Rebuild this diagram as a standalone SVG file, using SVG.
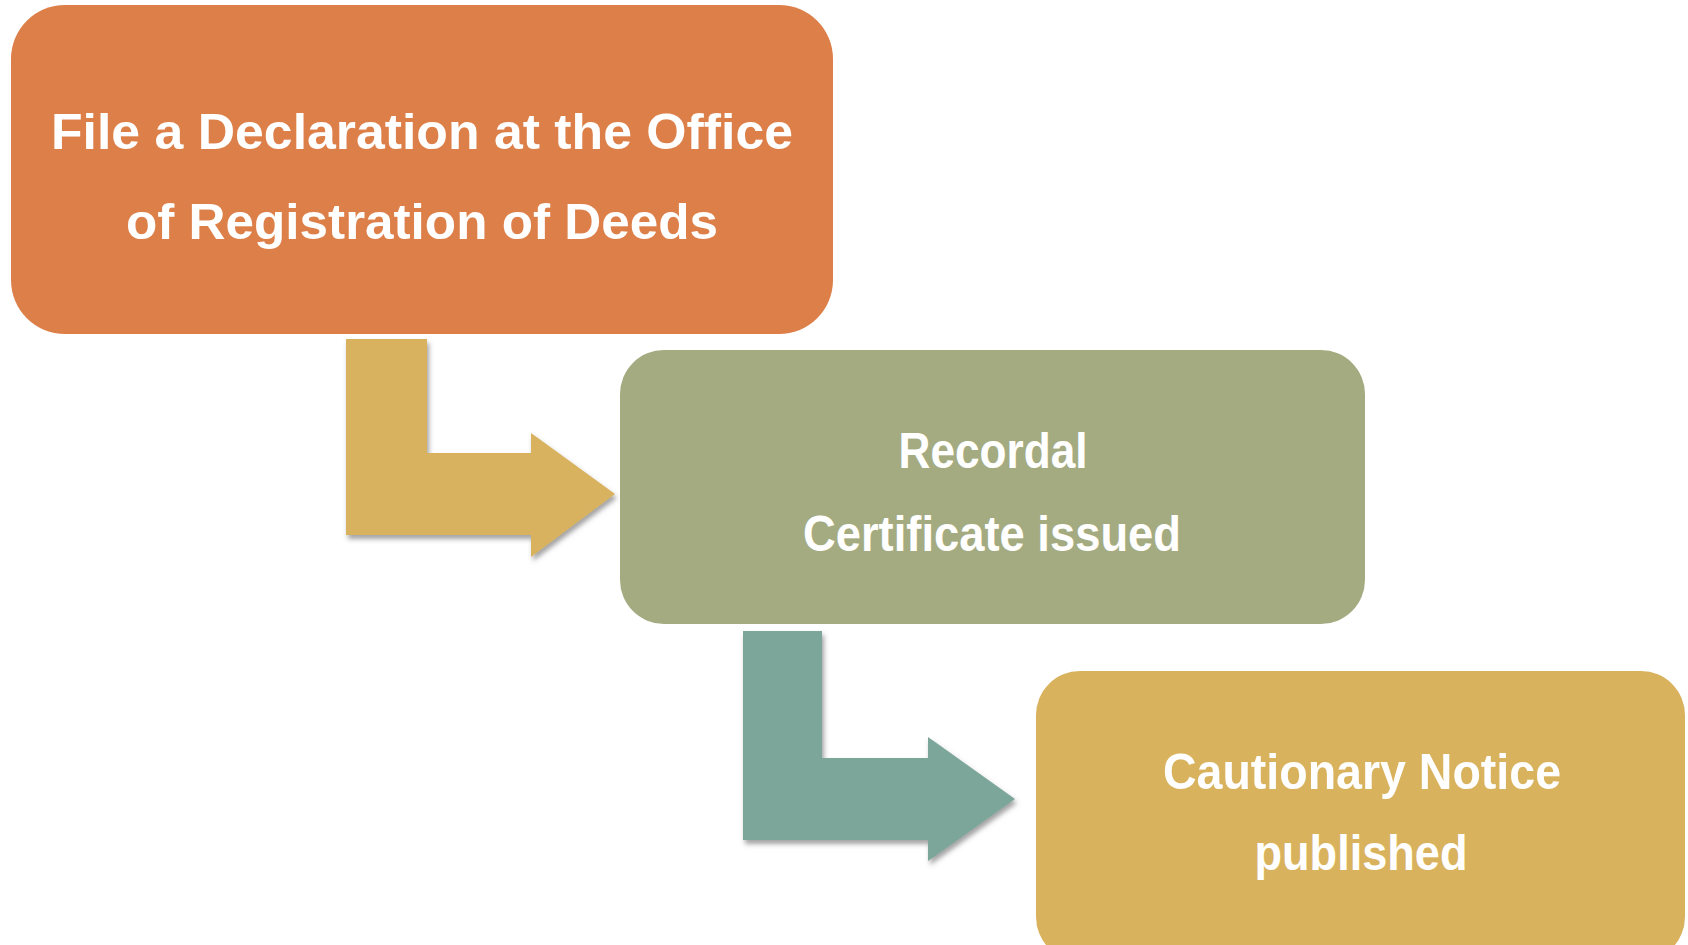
<svg xmlns="http://www.w3.org/2000/svg" width="1688" height="945" viewBox="0 0 1688 945">
<defs>
<filter id="shadow" x="-10%" y="-10%" width="130%" height="130%">
<feDropShadow dx="2" dy="4" stdDeviation="2.5" flood-color="#555" flood-opacity="0.55"/>
</filter>
</defs>
<style>
.lbl{font-family:"Liberation Sans",Arial,sans-serif;font-weight:bold;font-size:50px;fill:#ffffff;text-anchor:middle}
</style>
<rect width="1688" height="945" fill="#ffffff"/>
<g id="connectors">
<path id="arrow1" d="M346 339 H427 V453 H531 V433 L615 494 L531 557 V535 H346 Z" fill="#D9B25E" filter="url(#shadow)"/>
<path id="arrow2" d="M743 631 H822 V758 H928 V737 L1015 799 L928 861 V840 H743 Z" fill="#7BA69A" filter="url(#shadow)"/>
</g>
<g id="node1">
<rect x="11" y="5" width="822" height="329" rx="54" ry="54" fill="#DD7F48"/>
<text class="lbl" x="422" y="149" textLength="742" lengthAdjust="spacingAndGlyphs">File a Declaration at the Office</text>
<text class="lbl" x="422" y="239" textLength="592" lengthAdjust="spacingAndGlyphs">of Registration of Deeds</text>
</g>
<g id="node2">
<rect x="620" y="350" width="745" height="274" rx="44" ry="44" fill="#A5AB81"/>
<text class="lbl" x="993" y="468" textLength="189" lengthAdjust="spacingAndGlyphs">Recordal</text>
<text class="lbl" x="992" y="551" textLength="378" lengthAdjust="spacingAndGlyphs">Certificate issued</text>
</g>
<g id="node3">
<rect x="1036" y="671" width="649" height="290" rx="44" ry="44" fill="#D9B25E"/>
<text class="lbl" x="1362" y="789" textLength="398" lengthAdjust="spacingAndGlyphs">Cautionary Notice</text>
<text class="lbl" x="1361" y="870" textLength="213" lengthAdjust="spacingAndGlyphs">published</text>
</g>
</svg>
